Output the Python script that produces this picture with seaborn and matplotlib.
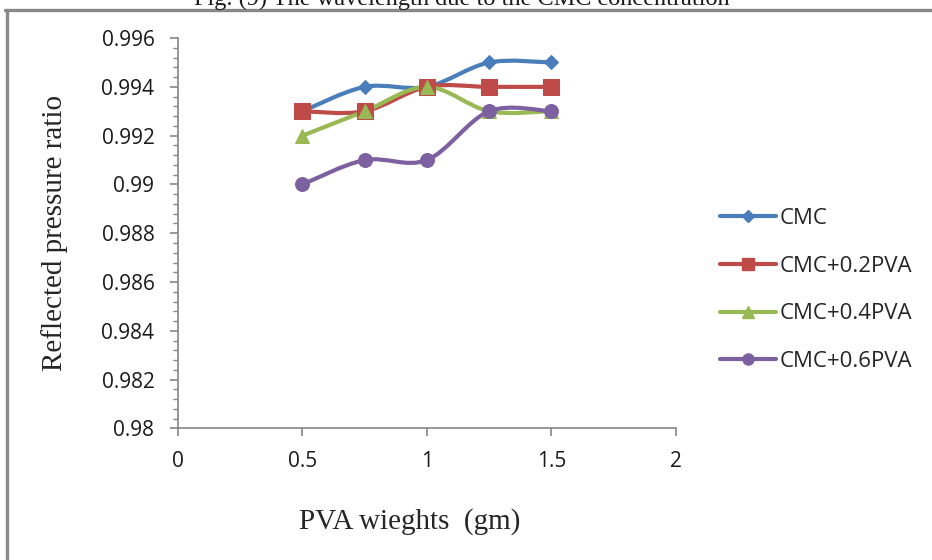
import numpy as np
import pandas as pd
import seaborn as sns
import matplotlib.pyplot as plt
from matplotlib.path import Path
from matplotlib.patches import PathPatch
from matplotlib.lines import Line2D
from matplotlib.ticker import MultipleLocator

# data
pva_weights = [0.5, 0.75, 1.0, 1.25, 1.5]
cmc = [0.993, 0.994, 0.994, 0.995, 0.995]
cmc_02pva = [0.993, 0.993, 0.994, 0.994, 0.994]
cmc_04pva = [0.992, 0.993, 0.994, 0.993, 0.993]
cmc_06pva = [0.990, 0.991, 0.991, 0.993, 0.993]
series_names = ['CMC', 'CMC+0.2PVA', 'CMC+0.4PVA', 'CMC+0.6PVA']

colors = ['#4A7EBB', '#BE4B48', '#98B954', '#7D60A0']
markers = ['D', 's', '^', 'o']
msizes = [7.5, 11, 10.5, 10]

df = pd.DataFrame({
    'x': pva_weights * 4,
    'y': cmc + cmc_02pva + cmc_04pva + cmc_06pva,
    'series': sum([[s] * len(pva_weights) for s in series_names], []),
})

sns.set_style('white')
fig = plt.figure(figsize=(9.32, 5.6), dpi=100)
ax = fig.add_axes([0.191, 0.235, 0.534, 0.697])


def smooth_path(xs, ys):
    # Excel-like smoothed line: cubic bezier segments through the points
    pts = np.column_stack([xs, ys])
    verts = [pts[0]]
    codes = [Path.MOVETO]
    n = len(pts)
    for i in range(n - 1):
        p0 = pts[max(i - 1, 0)]
        p1 = pts[i]
        p2 = pts[i + 1]
        p3 = pts[min(i + 2, n - 1)]
        c1 = p1 + (p2 - p0) / 6.0
        c2 = p2 - (p3 - p1) / 6.0
        verts += [c1, c2, p2]
        codes += [Path.CURVE4] * 3
    return Path(verts, codes)


handles = []
for name, c, m, ms in zip(series_names, colors, markers, msizes):
    sub = df[df['series'] == name]
    ax.add_patch(PathPatch(smooth_path(sub['x'].values, sub['y'].values),
                           facecolor='none', edgecolor=c, lw=3.0,
                           capstyle='round', joinstyle='round', zorder=2))
    sns.lineplot(data=sub, x='x', y='y', ax=ax, color=c, marker=m,
                 markersize=ms, markeredgecolor=c, linewidth=0, zorder=3,
                 legend=False)
    handles.append(Line2D([], [], color=c, lw=3.0, marker=m,
                          markersize=ms * 0.8, markeredgecolor=c, label=name))

ax.set_xlim(0, 2)
ax.set_ylim(0.98, 0.996)
ax.set_xticks([0, 0.5, 1, 1.5, 2])
ax.set_xticklabels(['0', '0.5', '1', '1.5', '2'])
ax.set_yticks(np.arange(0.98, 0.9961, 0.002))
ax.set_yticklabels(['0.98', '0.982', '0.984', '0.986', '0.988', '0.99',
                    '0.992', '0.994', '0.996'])
ax.yaxis.set_minor_locator(MultipleLocator(0.0004))

gray = '#868686'
for side in ['top', 'right']:
    ax.spines[side].set_visible(False)
for side in ['left', 'bottom']:
    ax.spines[side].set_color(gray)
    ax.spines[side].set_linewidth(1.2)
ax.tick_params(axis='both', which='major', direction='out', length=6,
               color=gray, width=1.2, labelsize=15, pad=11,
               left=True, bottom=True)
ax.tick_params(axis='y', which='minor', direction='out', length=3.5,
               color=gray, width=1.0, left=True)
for lab in ax.get_xticklabels() + ax.get_yticklabels():
    lab.set_family('Open Sans')
    lab.set_color('#1a1a1a')
ax.tick_params(axis='x', pad=10)

ax.set_xlabel('PVA wieghts  (gm)', family='Liberation Serif', fontsize=21,
              labelpad=26)
ax.xaxis.label.set_x(0.466)
ax.set_ylabel('Reflected pressure ratio', family='Liberation Serif',
              fontsize=21, labelpad=24)

leg = fig.legend(handles=handles, loc='center left',
                 bbox_to_anchor=(720 / 932, 1 - 290 / 560), frameon=False,
                 prop={'family': 'Open Sans', 'size': 16}, handlelength=2.5,
                 handletextpad=0.18, labelspacing=1.2, borderpad=0,
                 borderaxespad=0)

# clipped caption and page frame of the original figure
fig.text(0.496, 1 - 5 / 560, 'Fig. (9) The wavelength due to the CMC concentration',
         ha='center', va='baseline', family='Liberation Serif', fontsize=17.5,
         color='#1a1a1a')
fig.add_artist(Line2D([5 / 932, 1], [1 - 9.5 / 560, 1 - 9.5 / 560],
                      transform=fig.transFigure, color='#888888', lw=2.4))
fig.add_artist(Line2D([7 / 932, 7 / 932], [0, 1 - 9.5 / 560],
                      transform=fig.transFigure, color='#888888', lw=2.4))

fig.savefig('out.png', dpi=100)
